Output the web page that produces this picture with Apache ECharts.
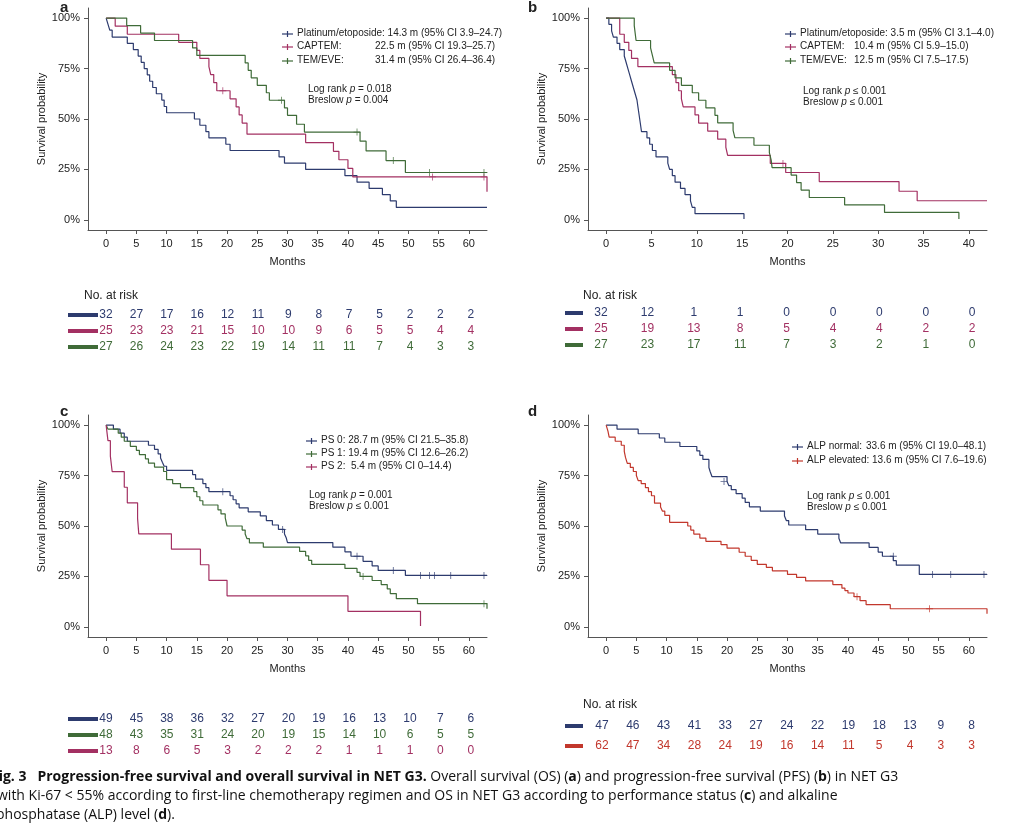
<!DOCTYPE html>
<html>
<head>
<meta charset="utf-8">
<script src="https://cdn.jsdelivr.net/npm/echarts@6/dist/echarts.min.js"></script>
<style>
  html, body { margin: 0; padding: 0; background: #fff; }
  #main { width: 1024px; height: 828px; }
</style>
</head>
<body>
<div id="main"></div>
<script>
// ---- data: [months, survival %] after each drop ----
var aPlat = [[0,100],[0.3,97],[0.6,94],[1,90.6],[3.5,87.5],[4.5,84.4],[5.3,81.2],[5.8,78.1],[6.3,75],[6.8,71.9],[7.2,68.7],[7.7,65.6],[8.3,62.5],[9.2,59.4],[9.6,56.2],[10,53.1],[14.6,50],[15.5,46.9],[16.5,43.7],[17,40.6],[19.8,37.5],[20.5,34.4],[28.6,31.2],[29.5,28.1],[33,25],[39.5,21.9],[41.5,18.7],[43.5,15.6],[45.7,12.5],[47,9.4],[48,6.2],[63,6.2]];
var aCap = [[0,100],[1.5,96],[3.5,92],[12,88],[15,84],[15.5,80],[17,76],[17.3,72],[17.8,68],[18.3,64],[20.5,60],[21.5,56],[22,52],[22.5,48],[23.3,42.5],[33,38.3],[37.6,34],[38.5,29.8],[40,25.5],[40.8,21.3],[63,21.3],[63,14]];
var aCapC = [[19.3,64],[54,21.3],[62.5,21.3]];
var aTem = [[0,100],[3.4,96.3],[5.7,92.6],[8,88.9],[14.3,85.2],[15,81.5],[23,77.8],[23.5,74.1],[24,70.4],[25,66.7],[26.5,63],[27,59.3],[29.5,55.5],[30,51.8],[31.5,47.4],[32.8,43.5],[42,39],[43,34.2],[46.3,29.4],[49.5,23.5],[63,23.5]];
var aTemC = [[29,59.3],[41.5,43.5],[47.5,29.4],[53.5,23.5],[62.5,23.5]];

var bPlat = [[0,100],[0.3,96.9],[0.6,93.7],[0.8,90.6],[1.2,87.5],[1.5,84.4],[2,81.2],[2.2,78.1],[2.4,75],[2.6,71.9],[2.8,68.7],[3,65.6],[3.2,62.5],[3.4,59.4],[3.5,56.2],[3.6,53.1],[3.7,50],[3.8,46.9],[3.9,43.7],[4.5,40.6],[4.8,37.5],[5.1,34.4],[5.5,31.2],[6.8,28.1],[7,25],[7.3,21.9],[7.6,18.7],[8.2,15.6],[8.7,12.5],[9.3,9.4],[9.5,6.2],[9.8,3.1],[15.2,3.1],[15.2,0.5]];
var bCap = [[0,100],[1.5,92],[2,88],[2.5,84],[2.8,80],[3.5,76],[7.3,72],[7.7,68],[8,64],[8.3,60],[8.5,56],[9.8,52],[10.2,48],[11.2,44],[12.3,40],[13.2,36],[13.4,32],[18.1,28],[19.8,23.5],[23.5,19],[32.3,14.2],[34.3,9.5],[42,9.5]];
var bCapC = [[19.5,28]];
var bTem = [[0,100],[3.1,96.3],[3.3,88.9],[4.9,85.2],[5.1,81.5],[5.3,77.8],[7,74.1],[7.6,70.4],[8.3,66.7],[9.5,63],[10.2,59.3],[11,55.5],[12,51.8],[12.3,48.1],[14,44.4],[14.2,40.7],[16.3,37],[18,33.3],[18.2,29.6],[18.3,25.9],[20.4,22.2],[21,18.5],[21.5,14.8],[22.4,11.1],[26.3,7.4],[30.7,3.7],[38.9,3.7],[38.9,0.5]];

var cPs0 = [[0,100],[1.2,98],[2.3,96],[3,94],[3.5,92],[7,90],[8,88],[8.6,85.7],[9,83.7],[9.3,81.6],[9.6,79.6],[10,77.6],[14.3,75.5],[14.8,73.2],[16,71],[16.5,69],[17,67],[20.5,65],[21,63],[21.5,61],[22,59],[23.5,57],[25.5,55],[26.5,52.7],[27.5,50.5],[28.5,48.3],[29.5,46],[29.8,44],[30,41.8],[37.5,39.5],[39.5,37.2],[40.5,35],[42.5,32.5],[44,30.2],[45,28],[49.5,25.5],[63,25.5]];
var cPs0C = [[19.3,67],[29.2,48.3],[41.5,35],[47.5,28],[52,25.5],[53.5,25.5],[54.3,25.5],[57,25.5],[62.5,25.5]];
var cPs1 = [[0,100],[0.3,98],[2,96],[2.5,94],[3,92],[4,89.5],[5,87.5],[5.5,85.4],[6.5,83.3],[7,81.2],[8,79.2],[9.5,77],[10,73],[11,71],[12.3,69],[14.5,67],[15,64.5],[15.5,62.5],[16,60.4],[18.5,58],[19,56],[19.7,54],[20,50],[22.5,48],[23,46],[23.3,43.7],[23.7,41.6],[26,39.5],[32,37.4],[33,35.2],[33.5,33],[34,31],[39.5,29],[41.5,27],[42,25],[44,23],[45.5,21],[46.5,18.8],[47,16.5],[48,14],[51.5,11.5],[63,11.5],[63,9]];
var cPs1C = [[42.5,25],[62.5,11.5]];
var cPs2 = [[0,100],[0.3,92.3],[0.7,84.6],[1,76.9],[3,69.2],[3.5,61.5],[5.2,53.8],[5.4,46.1],[10.8,38.5],[15.6,30.8],[17,23.1],[20,15.4],[40,7.7],[52,7.7],[52,0.5]];

var dNorm = [[0,100],[1.8,98],[5.3,95.7],[8.8,93.6],[9.7,91.5],[12.2,89.4],[15,87.2],[15.5,85],[16,83],[17,79],[17.2,77],[17.5,74.5],[20,72],[20.3,70],[20.7,68],[21.5,66],[22.5,63.8],[23,61.7],[23.7,59.5],[25.5,57.4],[29.5,55],[29.8,52.7],[30.2,50.5],[33,48.2],[35,46],[38.5,43.9],[38.8,41.6],[43.5,39.4],[45,37.1],[45.7,35],[47.5,32.8],[48,30.6],[51.8,26],[63,26]];
var dNormC = [[19.5,72],[47.5,35],[54,26],[57,26],[62.5,26]];
var dElev = [[0,100],[0.3,97],[0.5,94],[1.5,92],[2.5,90],[3,87],[3.2,84],[3.5,81],[4,79],[4.5,77],[5,75],[5.3,72.5],[5.8,71],[6.5,69],[7,67],[7.5,65],[8,61.3],[9,59.4],[9.3,57.4],[9.7,55.3],[10.5,51.8],[13.5,50],[14,48],[14.5,46],[15.5,44],[16.5,42.4],[19,40.8],[20,39],[22,37],[23,35],[24,33],[25,31],[26.5,29.5],[27.5,27.8],[30,26],[31.5,24.5],[33,22.8],[37.5,21],[39,19.2],[39.5,18],[40,16.8],[41,15],[42,13],[43,11],[47,9],[63,9],[63,6.5]];
var dElevC = [[41.5,15],[53.5,9]];

var xTicks60 = [0,5,10,15,20,25,30,35,40,45,50,55,60];
var xTicks40 = [0,5,10,15,20,25,30,35,40];
var yTicks = [0,25,50,75,100];

var riskA = [[32,27,17,16,12,11,9,8,7,5,2,2,2],[25,23,23,21,15,10,10,9,6,5,5,4,4],[27,26,24,23,22,19,14,11,11,7,4,3,3]];
var riskB = [[32,12,1,1,0,0,0,0,0],[25,19,13,8,5,4,4,2,2],[27,23,17,11,7,3,2,1,0]];
var riskC = [[49,45,38,36,32,27,20,19,16,13,10,7,6],[48,43,35,31,24,20,19,15,14,10,6,5,5],[13,8,6,5,3,2,2,2,1,1,1,0,0]];
var riskD = [[47,46,43,41,33,27,24,22,19,18,13,9,8],[62,47,34,28,24,19,16,14,11,5,4,3,3]];

var NAVY = '#2d3b6e', MAG = '#a33062', GRN = '#3f6b38', RED = '#c2372c';
var FONT = 'Liberation Sans, Arial, sans-serif';
var CAPFONT = 'Open Sans, Noto Sans, sans-serif';
var PLUS = 'path://M-0.6,-5H0.6V-0.6H5V0.6H0.6V5H-0.6V0.6H-5V-0.6H-0.6Z';

var grids = [
  {left: 88, top: 8, width: 399, height: 222},
  {left: 588, top: 8, width: 399, height: 222},
  {left: 88, top: 415, width: 399, height: 222},
  {left: 588, top: 415, width: 399, height: 222}
];

function xAx(i, min, max, ticks) {
  return {
    type: 'value', gridIndex: i, min: min, max: max,
    splitLine: {show: false},
    axisLine: {onZero: false, lineStyle: {color: '#555'}},
    axisTick: {customValues: ticks, length: 4, lineStyle: {color: '#555'}},
    axisLabel: {customValues: ticks, color: '#222', fontSize: 11, fontFamily: FONT},
    name: 'Months', nameLocation: 'middle', nameGap: 26,
    nameTextStyle: {color: '#222', fontSize: 11, fontFamily: FONT}
  };
}
function yAx(i) {
  return {
    type: 'value', gridIndex: i, min: -5, max: 105,
    splitLine: {show: false},
    axisLine: {show: true, onZero: false, lineStyle: {color: '#555'}},
    axisTick: {show: true, customValues: yTicks, length: 4, lineStyle: {color: '#555'}},
    axisLabel: {customValues: yTicks, formatter: '{value}%', color: '#222', fontSize: 11, fontFamily: FONT},
    name: 'Survival probability', nameLocation: 'middle', nameGap: 36,
    nameTextStyle: {color: '#222', fontSize: 11, fontFamily: FONT}
  };
}
function km(i, data, color) {
  return {type: 'line', xAxisIndex: i, yAxisIndex: i, data: data, step: 'end',
    symbol: 'none', silent: true, lineStyle: {color: color, width: 1.2}};
}
function cens(i, data, color) {
  return {type: 'scatter', xAxisIndex: i, yAxisIndex: i, data: data, symbol: PLUS,
    symbolSize: 7, silent: true, itemStyle: {color: color}};
}
function txt(x, y, s, opt) {
  opt = opt || {};
  return {type: 'text', left: x, top: y, silent: true,
    style: {text: s, fill: opt.fill || '#222', font: (opt.weight || 'normal') + ' ' + (opt.size || 10) + 'px ' + FONT,
      textAlign: opt.align || 'left', rich: opt.rich}};
}
function legItem(x, y, color, label) {
  return [
    {type: 'line', silent: true, shape: {x1: x, y1: y, x2: x + 11, y2: y}, style: {stroke: color, lineWidth: 1.2}},
    {type: 'line', silent: true, shape: {x1: x + 5.5, y1: y - 3, x2: x + 5.5, y2: y + 3}, style: {stroke: color, lineWidth: 1.2}},
    txt(x + 15, y - 6, label)
  ];
}
function pText(x, y, a, b) {
  var rich = {i: {fontStyle: 'italic', fontSize: 10, fontFamily: FONT, fill: '#222'}};
  return [
    {type: 'text', x: x, y: y, silent: true, style: {text: 'Log rank {i|p} ' + a, font: '10px ' + FONT, fill: '#222', rich: rich}},
    {type: 'text', x: x, y: y + 11, silent: true, style: {text: 'Breslow {i|p} ' + b, font: '10px ' + FONT, fill: '#222', rich: rich}}
  ];
}
function riskRows(rows, colors, x0, dx, y0, dy, segX, segW) {
  var out = [];
  rows.forEach(function(r, k) {
    var y = y0 + k * dy;
    out.push({type: 'rect', silent: true, shape: {x: segX, y: y - 2, width: segW, height: 4}, style: {fill: colors[k]}});
    r.forEach(function(v, j) {
      out.push({type: 'text', x: x0 + j * dx, y: y, silent: true,
        style: {text: String(v), fill: colors[k], font: '12px ' + FONT, textAlign: 'center', textVerticalAlign: 'middle'}});
    });
  });
  return out;
}

var g = [];
g.push(txt(60, 0, 'a', {weight: 'bold', size: 15}));
g.push(txt(528, 0, 'b', {weight: 'bold', size: 15}));
g.push(txt(60, 404, 'c', {weight: 'bold', size: 15}));
g.push(txt(528, 404, 'd', {weight: 'bold', size: 15}));
// legends
g = g.concat(legItem(282, 34, NAVY, 'Platinum/etoposide: 14.3 m (95% CI 3.9\u201324.7)'));
g = g.concat(legItem(282, 47, MAG, 'CAPTEM:'));
g = g.concat(legItem(282, 61, GRN, 'TEM/EVE:'));
g.push(txt(375, 41, '22.5 m (95% CI 19.3\u201325.7)'));
g.push(txt(375, 55, '31.4 m (95% CI 26.4\u201336.4)'));
g = g.concat(pText(308, 84, '= 0.018', '= 0.004'));
g = g.concat(legItem(785, 34, NAVY, 'Platinum/etoposide: 3.5 m (95% CI 3.1\u20134.0)'));
g = g.concat(legItem(785, 47, MAG, 'CAPTEM:'));
g = g.concat(legItem(785, 61, GRN, 'TEM/EVE:'));
g.push(txt(854, 41, '10.4 m (95% CI 5.9\u201315.0)'));
g.push(txt(854, 55, '12.5 m (95% CI 7.5\u201317.5)'));
g = g.concat(pText(803, 86, '\u2264 0.001', '\u2264 0.001'));
g = g.concat(legItem(306, 441, NAVY, 'PS 0: 28.7 m (95% CI 21.5\u201335.8)'));
g = g.concat(legItem(306, 454, GRN, 'PS 1: 19.4 m (95% CI 12.6\u201326.2)'));
g = g.concat(legItem(306, 467, MAG, 'PS 2:  5.4 m (95% CI 0\u201314.4)'));
g = g.concat(pText(309, 490, '= 0.001', '\u2264 0.001'));
g = g.concat(legItem(792, 447, NAVY, 'ALP normal:'));
g = g.concat(legItem(792, 461, RED, 'ALP elevated: 13.6 m (95% CI 7.6\u201319.6)'));
g.push(txt(866, 441, '33.6 m (95% CI 19.0\u201348.1)'));
g = g.concat(pText(807, 491, '\u2264 0.001', '\u2264 0.001'));
// risk tables
g.push(txt(84, 290, 'No. at risk', {size: 12}));
g = g.concat(riskRows(riskA, [NAVY, MAG, GRN], 106, 30.4, 315, 16, 68, 30));
g.push(txt(583, 290, 'No. at risk', {size: 12}));
g = g.concat(riskRows(riskB, [NAVY, MAG, GRN], 601, 46.4, 313, 16, 565, 18));
g = g.concat(riskRows(riskC, [NAVY, GRN, MAG], 106, 30.4, 719, 16, 68, 30));
g.push(txt(583, 699, 'No. at risk', {size: 12}));
g = g.concat(riskRows(riskD, [NAVY, RED], 602, 30.8, 726, 20, 565, 18));
// caption
var capRich = {b: {fontWeight: 'bold', fontSize: 14, fontFamily: CAPFONT, fill: '#111'}};
g.push({type: 'text', x: -9, y: 770, silent: true, style: {text: '{b|Fig. 3   Progression-free survival and overall survival in NET G3.} Overall survival (OS) ({b|a}) and progression-free survival (PFS) ({b|b}) in NET G3', font: '14px ' + CAPFONT, fill: '#111', rich: capRich}});
g.push({type: 'text', x: -3, y: 789, silent: true, style: {text: 'with Ki-67 < 55% according to first-line chemotherapy regimen and OS in NET G3 according to performance status ({b|c}) and alkaline', font: '14px ' + CAPFONT, fill: '#111', rich: capRich}});
g.push({type: 'text', x: -4, y: 808, silent: true, style: {text: 'phosphatase (ALP) level ({b|d}).', font: '14px ' + CAPFONT, fill: '#111', rich: capRich}});

var chart = echarts.init(document.getElementById('main'));
chart.setOption({
  animation: false,
  backgroundColor: '#fff',
  grid: grids,
  xAxis: [xAx(0, -3, 63, xTicks60), xAx(1, -2, 42, xTicks40), xAx(2, -3, 63, xTicks60), xAx(3, -3, 63, xTicks60)],
  yAxis: [yAx(0), yAx(1), yAx(2), yAx(3)],
  series: [
    km(0, aPlat, NAVY), km(0, aCap, MAG), km(0, aTem, GRN), cens(0, aCapC, MAG), cens(0, aTemC, GRN),
    km(1, bPlat, NAVY), km(1, bCap, MAG), km(1, bTem, GRN), cens(1, bCapC, MAG),
    km(2, cPs0, NAVY), km(2, cPs1, GRN), km(2, cPs2, MAG), cens(2, cPs0C, NAVY), cens(2, cPs1C, GRN),
    km(3, dNorm, NAVY), km(3, dElev, RED), cens(3, dNormC, NAVY), cens(3, dElevC, RED)
  ],
  graphic: g
});
</script>
</body>
</html>
